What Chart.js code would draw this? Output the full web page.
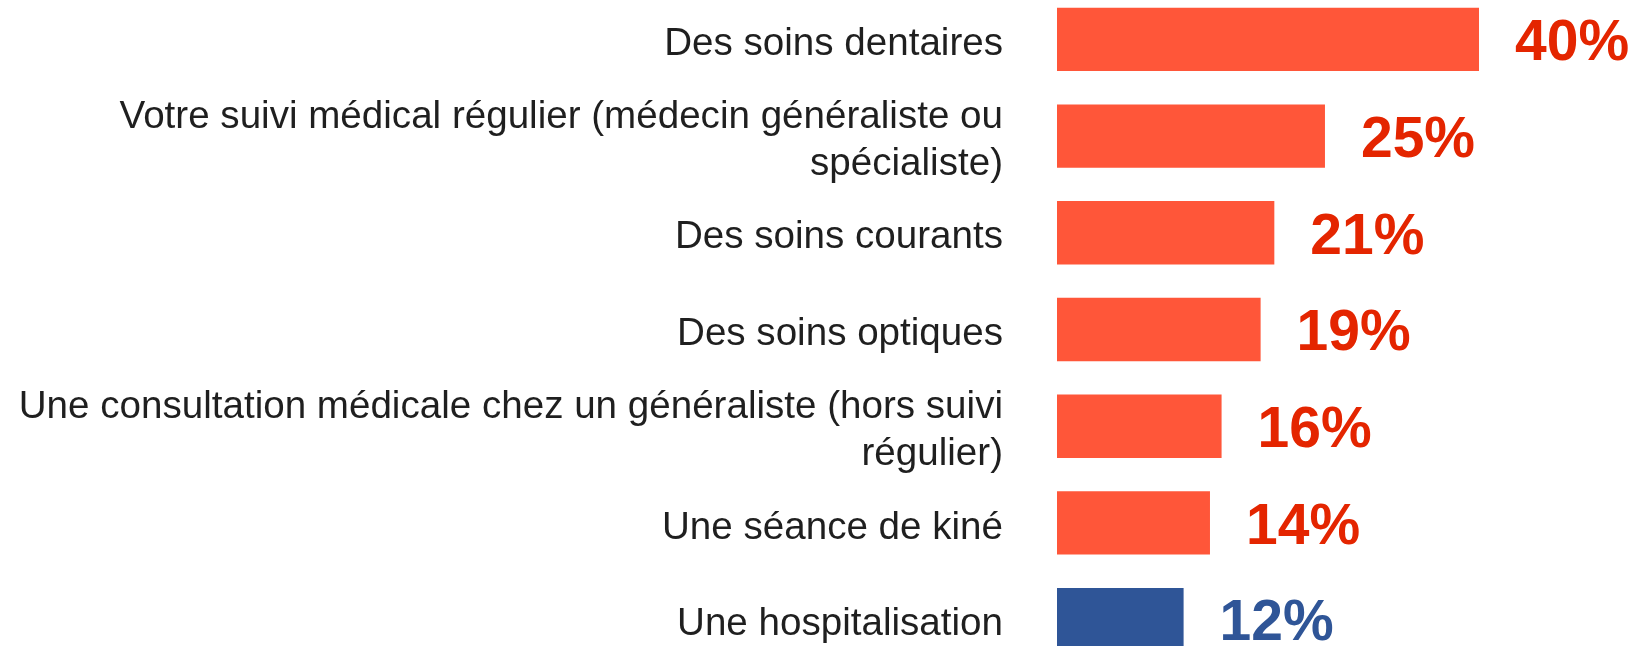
<!DOCTYPE html>
<html>
<head>
<meta charset="utf-8">
<script src="https://cdn.jsdelivr.net/npm/chart.js@4/dist/chart.umd.min.js"></script>
<style>
  html, body { margin: 0; padding: 0; background: #ffffff; }
  #wrap { position: relative; width: 1635px; height: 646px; overflow: hidden; background: #ffffff; }
  #c { position: absolute; left: 0; top: -9px; }
</style>
</head>
<body>
<div id="wrap"><canvas id="c" width="1635" height="677"></canvas></div>
<script>
const categories = [
  ["Des soins dentaires"],
  ["Votre suivi médical régulier (médecin généraliste ou", "spécialiste)"],
  ["Des soins courants"],
  ["Des soins optiques"],
  ["Une consultation médicale chez un généraliste (hors suivi", "régulier)"],
  ["Une séance de kiné"],
  ["Une hospitalisation"]
];
const values = [40, 25.4, 20.6, 19.3, 15.6, 14.5, 12.0];
const valueLabels = ["40%", "25%", "21%", "19%", "16%", "14%", "12%"];
const highlightIndex = 6;

const RED_BAR = "#FF5639";
const RED_TEXT = "#E42500";
const BLUE = "#2F5597";
const FONT = "'Liberation Sans', Arial, Helvetica, sans-serif";

const valueLabelPlugin = {
  id: "valueLabels",
  afterDatasetsDraw(chart) {
    const ctx = chart.ctx;
    const meta = chart.getDatasetMeta(0);
    ctx.save();
    ctx.font = "bold 57px " + FONT;
    ctx.textAlign = "left";
    ctx.textBaseline = "middle";
    meta.data.forEach((bar, i) => {
      ctx.fillStyle = i === highlightIndex ? BLUE : RED_TEXT;
      ctx.fillText(valueLabels[i], bar.x + 36, bar.y + 5);
    });
    ctx.restore();
  }
};

new Chart(document.getElementById("c"), {
  type: "bar",
  data: {
    labels: categories,
    datasets: [{
      data: values,
      backgroundColor: (c) => c.dataIndex === highlightIndex ? BLUE : RED_BAR,
      borderWidth: 0,
      categoryPercentage: 1.0,
      barPercentage: 0.655
    }]
  },
  options: {
    indexAxis: "y",
    responsive: false,
    animation: false,
    devicePixelRatio: 1,
    layout: { padding: { left: 0, right: 156, top: 0, bottom: 0 } },
    plugins: {
      legend: { display: false },
      tooltip: { enabled: false }
    },
    scales: {
      x: {
        display: false,
        min: 0,
        max: 40
      },
      y: {
        grid: { display: false, drawTicks: false },
        border: { display: false },
        ticks: {
          autoSkip: false,
          padding: 54,
          labelOffset: 5,
          color: "#1f1f1f",
          font: { family: FONT, size: 38.6, lineHeight: 1.22 }
        },
        afterFit(scale) {
          scale.width = 1057;
          scale.paddingTop = 0;
          scale.paddingBottom = 0;
        }
      }
    }
  },
  plugins: [valueLabelPlugin]
});
</script>
</body>
</html>
